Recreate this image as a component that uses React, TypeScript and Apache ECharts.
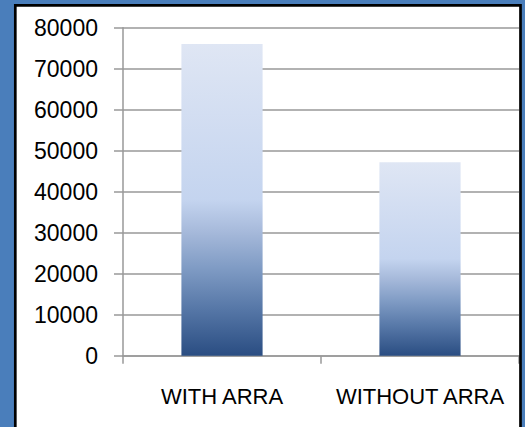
import React, { useEffect, useRef } from "react";
import * as echarts from "echarts";

const categories = ["WITH ARRA", "WITHOUT ARRA"];
const values = [76000, 47200];
const yTicks = { min: 0, max: 80000, interval: 10000 };

export default function App() {
  const ref = useRef<HTMLDivElement>(null);
  useEffect(() => {
    if (!ref.current) return;
    const chart = echarts.init(ref.current, undefined, { renderer: "svg" });
    const barGradient = new echarts.graphic.LinearGradient(0, 0, 0, 1, [
      { offset: 0, color: "#dfe6f4" },
      { offset: 0.5, color: "#c4d4ef" },
      { offset: 0.6, color: "#a7badb" },
      { offset: 0.72, color: "#7f9bc4" },
      { offset: 0.85, color: "#5677a7" },
      { offset: 1, color: "#2a4d82" },
    ]);
    chart.setOption({
      animation: false,
      backgroundColor: "#4a7ebb",
      graphic: [
        {
          type: "rect",
          z: -10,
          silent: true,
          shape: { x: 15.3, y: 5.3, width: 505.2, height: 430 },
          style: { fill: "#ffffff" },
        },
        {
          type: "rect",
          z: 100,
          silent: true,
          shape: { x: 15.3, y: 5.3, width: 505.2, height: 430 },
          style: { fill: "none", stroke: "#000000", lineWidth: 2.7 },
        },
      ],
      grid: { left: 123, right: 6, top: 27.7, bottom: 71.3, containLabel: false },
      xAxis: {
        type: "category",
        data: categories,
        axisLine: { show: true, lineStyle: { color: "#999999", width: 1.5 } },
        axisTick: { show: true, length: 8, alignWithLabel: false, lineStyle: { color: "#999999", width: 1.5 } },
        axisLabel: {
          color: "#000000",
          fontFamily: "Liberation Sans",
          fontSize: 22,
          margin: 30,
          interval: 0,
          hideOverlap: false,
        },
        splitLine: { show: false },
      },
      yAxis: {
        type: "value",
        min: yTicks.min,
        max: yTicks.max,
        interval: yTicks.interval,
        axisLine: { show: true, lineStyle: { color: "#999999", width: 1.5 } },
        axisTick: { show: true, length: 9, inside: false, lineStyle: { color: "#999999", width: 1.5 } },
        axisLabel: {
          color: "#000000",
          fontFamily: "Liberation Sans",
          fontSize: 23,
          margin: 25,
          formatter: (v: number) => String(v),
        },
        splitLine: { show: true, lineStyle: { color: "#999999", width: 1.5 } },
      },
      series: [
        {
          type: "bar",
          data: values,
          barWidth: "41%",
          itemStyle: { color: barGradient },
        },
      ],
    });
    return () => chart.dispose();
  }, []);
  return (
    <div
      ref={ref}
      style={{ position: "fixed", left: 0, top: 0, width: 525, height: 427 }}
    />
  );
}
